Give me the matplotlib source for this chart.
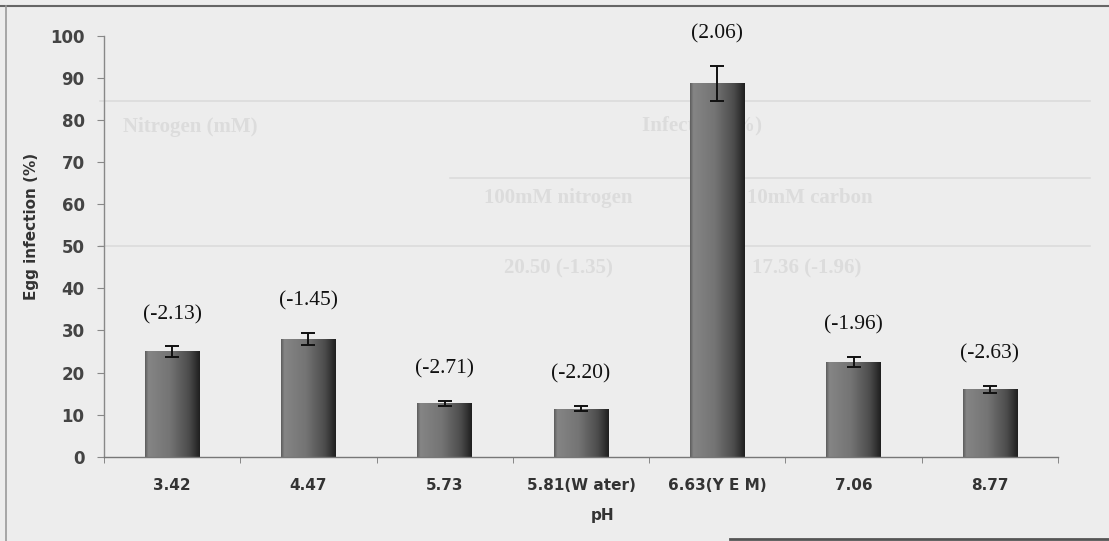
import matplotlib
matplotlib.use("Agg")
import matplotlib.pyplot as plt
import numpy as np
from matplotlib.colors import LinearSegmentedColormap
from matplotlib.lines import Line2D

# egg infection at each pH, with SE and the score printed above each bar
ph_labels = ["3.42", "4.47", "5.73", "5.81(W ater)", "6.63(Y E M)", "7.06", "8.77"]
infection = [25.0, 28.0, 12.7, 11.4, 88.7, 22.5, 16.0]
infection_se = [1.2, 1.4, 0.55, 0.6, 4.2, 1.25, 0.85]
scores = ["(-2.13)", "(-1.45)", "(-2.71)", "(-2.20)", "(2.06)", "(-1.96)", "(-2.63)"]

BG = "#ededed"
GHOST = "#dcdcdc"

W, H = 1109, 541
fig = plt.figure(figsize=(W / 100, H / 100), dpi=100, facecolor=BG)
ax = fig.add_axes([104 / W, 1 - 456.7 / H, (1058 - 104) / W, (456.7 - 35.7) / H])
ax.set_facecolor("none")


def px(x, y):
    return x / W, 1 - y / H


# faint table showing through the page
for y0, x0 in [(101, 100), (178, 450), (246, 100)]:
    fig.add_artist(Line2D([x0 / W, 1090 / W], [1 - y0 / H] * 2, color=GHOST,
                          lw=1.2, zorder=-2))
ghost_rows = [
    ("Nitrogen (mM)", 190, 127), ("Infection (%)", 702, 125),
    ("100mM nitrogen", 558, 198), ("10mM carbon", 810, 198),
    ("20.50 (-1.35)", 558, 268), ("17.36 (-1.96)", 807, 268),
]
for txt, gx, gy in ghost_rows:
    fig.text(*px(gx, gy), txt, ha="center", va="center", fontsize=15,
             family="Liberation Serif", fontweight="bold", color=GHOST, zorder=-2)

x = np.arange(len(ph_labels))
bars = ax.bar(x, infection, width=0.4, color="none", edgecolor="none", zorder=2)

# shaded cylinder look: light on the left, dark on the right
shade = LinearSegmentedColormap.from_list("shade", [
    (0.0, "#5c5c5c"), (0.06, "#858585"), (0.45, "#747474"),
    (0.8, "#4c4c4c"), (1.0, "#1f1f1f")])
grad = np.linspace(0, 1, 256).reshape(1, -1)
for b in bars:
    im = ax.imshow(grad, cmap=shade, aspect="auto", zorder=2,
                   extent=[b.get_x(), b.get_x() + b.get_width(), 0, b.get_height()])
    im.set_clip_path(b)

ax.errorbar(x, infection, yerr=infection_se, fmt="none", ecolor="#111111",
            elinewidth=1.4, capsize=5, capthick=1.4, zorder=4)

for xi, v, e, s in zip(x, infection, infection_se, scores):
    ax.annotate(s, (xi, v + e), xytext=(0, 16), textcoords="offset points",
                ha="center", va="bottom", fontsize=15.5, family="Liberation Serif",
                color="#111111")

ax.set_xlim(-0.5, len(ph_labels) - 0.5)
ax.set_ylim(0, 100)
ax.set_yticks(range(0, 101, 10))
ax.set_xticks(x)
ax.set_xticklabels(ph_labels)
ax.set_xticks(np.arange(-0.5, len(ph_labels)), minor=True)

ax.tick_params(axis="x", which="major", length=0, pad=15, labelsize=11,
               labelcolor="#333333")
ax.tick_params(axis="x", which="minor", length=4, color="#777777", direction="out")
ax.tick_params(axis="y", length=5, color="#888888", pad=9, labelsize=12,
               labelcolor="#444444")
for lab in ax.get_xticklabels() + ax.get_yticklabels():
    lab.set_fontweight("bold")

ax.set_ylabel("Egg infection (%)", fontsize=11, fontweight="bold", color="#333333")
ax.yaxis.set_label_coords(-0.068, 0.546)
ax.set_xlabel("pH", fontsize=11, fontweight="bold", color="#333333")
ax.xaxis.set_label_coords(0.523, -0.122)

for sp in ("top", "right"):
    ax.spines[sp].set_visible(False)
ax.spines["left"].set_color("#888888")
ax.spines["bottom"].set_color("#777777")
ax.spines["left"].set_linewidth(1.0)
ax.spines["bottom"].set_linewidth(1.0)

# page frame edges
fig.add_artist(Line2D([0, 1], [1 - 6 / H] * 2, color="#666666", lw=1.5))
fig.add_artist(Line2D([6 / W] * 2, [0, 1 - 6 / H], color="#999999", lw=1.2))
fig.add_artist(Line2D([730 / W, 1], [1 - 539 / H] * 2, color="#555555", lw=2))

fig.savefig("out.png", dpi=100, facecolor=BG)
